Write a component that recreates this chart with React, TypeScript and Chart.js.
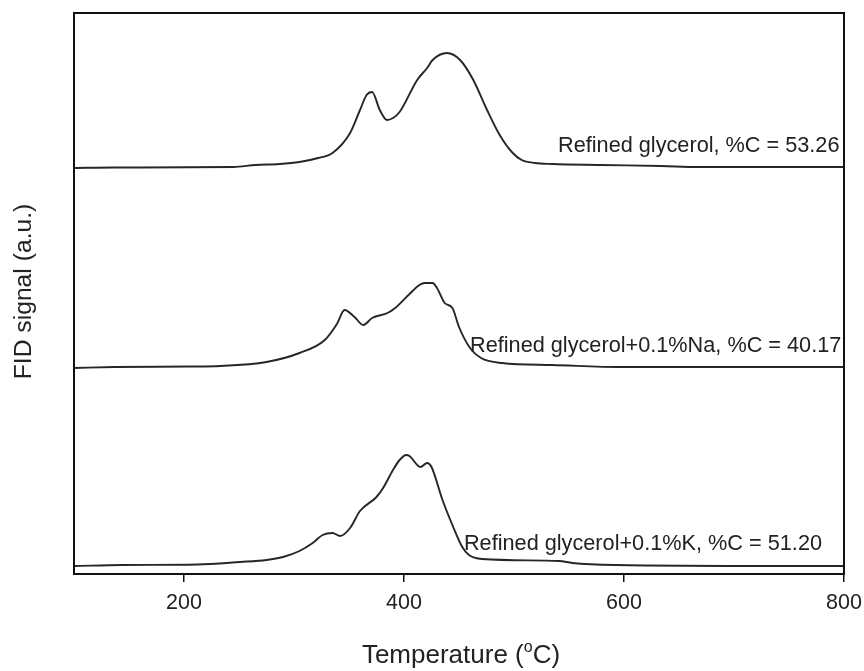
import React, { useEffect, useRef } from "react";
import { Chart, registerables } from "chart.js";

Chart.register(...registerables);

// Temperature (°C) and FID signal (a.u.) for each trace
const tempTop = [100, 137, 245, 265, 287, 305, 322, 335, 351, 360, 366, 371, 378, 384.5, 390, 396, 412, 421, 426, 439, 451, 463, 475.5, 487, 498, 507, 519, 535, 578, 634, 667, 800];
const sigTop = [406, 406.5, 407, 409, 410, 412, 416, 421, 441, 464, 479, 482, 464, 454, 456, 462, 494, 506, 514, 521, 514, 494, 464, 439, 422, 414, 411, 410, 409, 408, 407, 407];

const tempNa = [100, 137, 205, 233, 275, 305, 328, 339, 346, 355, 363, 371, 385, 392, 405, 414, 419, 426, 430, 437, 444, 450, 460, 470, 489, 535, 598, 800];
const sigNa = [206, 207, 207.5, 208, 212, 221, 234, 250, 264, 257, 249, 256, 261, 266, 280, 289, 291, 291, 286, 271, 266, 247, 226, 216, 211, 209, 207, 207];

const tempK = [100, 144.5, 212, 251, 275, 290, 305, 317, 326, 335, 342, 351, 360, 375, 381, 390, 396, 402, 405, 415, 421, 425, 435, 444, 453, 459, 471, 541, 553, 592, 741, 800];
const sigK = [8, 9, 9.5, 12, 14, 17, 23, 31, 39, 41, 38, 46, 63, 77, 86, 104, 114, 119, 118, 107, 111, 107, 74, 49, 27, 19, 15, 13, 11, 9, 8, 8];

const xTicks = [200, 400, 600, 800];
const labels = [
  "Refined glycerol, %C = 53.26",
  "Refined glycerol+0.1%Na, %C = 40.17",
  "Refined glycerol+0.1%K, %C = 51.20",
];
const labelTemps = [540, 460, 454.5];
const labelSignals = [422, 222, 24];

const FONT = '"Liberation Sans", Arial, Helvetica, sans-serif';

const toPoints = (xs: number[], ys: number[]) => xs.map((x, i) => ({ x, y: ys[i] }));

const overlayPlugin = {
  id: "overlay",
  afterDraw(chart: any) {
    const { ctx, chartArea, scales } = chart;
    const xs = scales.x;
    const ys = scales.y;
    ctx.save();
    // frame
    ctx.strokeStyle = "#111";
    ctx.lineWidth = 2;
    ctx.strokeRect(chartArea.left, chartArea.top, chartArea.right - chartArea.left, chartArea.bottom - chartArea.top);

    // annotations
    ctx.fillStyle = "#222";
    ctx.font = `21.7px ${FONT}`;
    ctx.textAlign = "left";
    ctx.textBaseline = "alphabetic";
    labels.forEach((t, i) => {
      ctx.fillText(t, xs.getPixelForValue(labelTemps[i]), ys.getPixelForValue(labelSignals[i]));
    });

    // x title with superscript o
    const midX = (chartArea.left + chartArea.right) / 2 + 2;
    const baseY = 663;
    const big = `26px ${FONT}`;
    const small = `16px ${FONT}`;
    const p1 = "Temperature (";
    const p2 = "o";
    const p3 = "C)";
    ctx.font = big;
    const w1 = ctx.measureText(p1).width;
    const w3 = ctx.measureText(p3).width;
    ctx.font = small;
    const w2 = ctx.measureText(p2).width;
    let x0 = midX - (w1 + w2 + w3) / 2;
    ctx.font = big;
    ctx.fillText(p1, x0, baseY);
    x0 += w1;
    ctx.font = small;
    ctx.fillText(p2, x0, baseY - 11);
    x0 += w2;
    ctx.font = big;
    ctx.fillText(p3, x0, baseY);

    // y title
    ctx.translate(31, (chartArea.top + chartArea.bottom) / 2 - 2);
    ctx.rotate(-Math.PI / 2);
    ctx.font = `24.7px ${FONT}`;
    ctx.textAlign = "center";
    ctx.fillText("FID signal (a.u.)", 0, 0);
    ctx.restore();
  },
};

export default function App() {
  const ref = useRef<HTMLCanvasElement>(null);
  useEffect(() => {
    document.body.style.margin = "0";
    if (!ref.current) return;
    const ds = (xs: number[], ys: number[]) => ({
      data: toPoints(xs, ys),
      borderColor: "#262626",
      borderWidth: 1.9,
      pointRadius: 0,
      fill: false,
      cubicInterpolationMode: "monotone" as const,
    });
    const chart = new Chart(ref.current, {
      type: "line",
      data: {
        datasets: [ds(tempTop, sigTop), ds(tempNa, sigNa), ds(tempK, sigK)],
      },
      options: {
        animation: false,
        responsive: true,
        maintainAspectRatio: false,
        layout: { padding: { left: 74, right: 20, top: 13, bottom: 0 } },
        plugins: { legend: { display: false }, tooltip: { enabled: false } },
        scales: {
          x: {
            type: "linear",
            min: 100,
            max: 800,
            afterBuildTicks: (s: any) => {
              s.ticks = xTicks.map((v) => ({ value: v }));
            },
            afterFit: (s: any) => {
              s.height = 97;
              s.paddingLeft = 0;
              s.paddingRight = 0;
            },
            grid: {
              display: true,
              drawOnChartArea: false,
              drawTicks: true,
              tickLength: 8,
              color: "#111",
              lineWidth: 1.5,
            },
            border: { display: true, color: "#111", width: 2 },
            ticks: {
              color: "#222",
              padding: 8,
              maxRotation: 0,
              font: { family: FONT, size: 21.5 },
              callback: (v: any) => String(v),
            },
          },
          y: {
            type: "linear",
            display: false,
            min: 0,
            max: 561,
          },
        },
      },
      plugins: [overlayPlugin],
    });
    return () => chart.destroy();
  }, []);
  return (
    <div style={{ width: 864, height: 671, position: "relative", overflow: "hidden" }}>
      <canvas ref={ref} />
    </div>
  );
}
